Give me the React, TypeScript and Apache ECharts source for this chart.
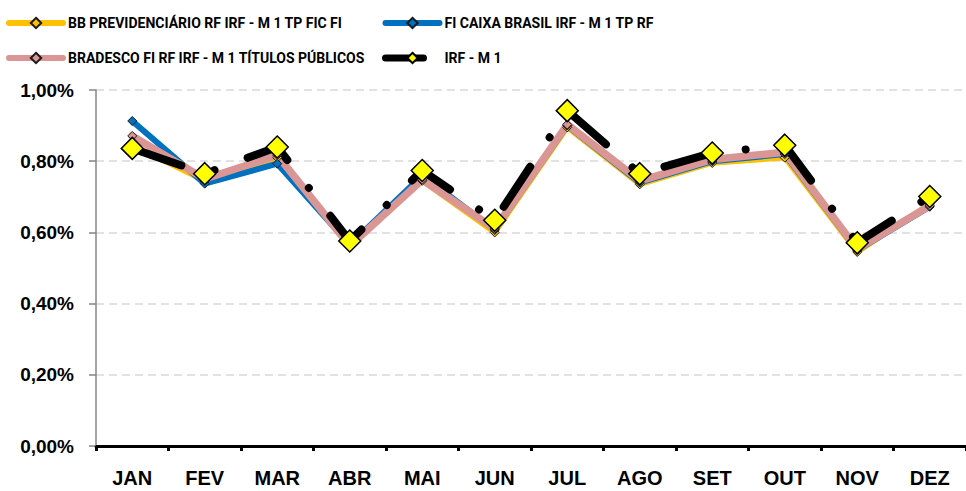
import React, { useEffect, useRef } from "react";
import * as echarts from "echarts";

const months = ["JAN", "FEV", "MAR", "ABR", "MAI", "JUN", "JUL", "AGO", "SET", "OUT", "NOV", "DEZ"];
const yTicks = [0, 0.2, 0.4, 0.6, 0.8, 1.0];

const bbName = "BB PREVIDENCIÁRIO RF IRF - M 1 TP FIC FI";
const caixaName = "FI CAIXA BRASIL IRF - M 1 TP RF";
const bradescoName = "BRADESCO FI RF IRF - M 1 TÍTULOS PÚBLICOS";
const irfName = "IRF - M 1";

const bbValues = [0.845, 0.745, 0.81, 0.56, 0.745, 0.6, 0.895, 0.735, 0.795, 0.81, 0.545, 0.68];
const caixaValues = [0.913, 0.737, 0.793, 0.565, 0.76, 0.607, 0.9, 0.74, 0.8, 0.82, 0.55, 0.672];
const bradescoValues = [0.871, 0.75, 0.817, 0.562, 0.748, 0.61, 0.903, 0.745, 0.805, 0.825, 0.553, 0.675];
const irfValues = [0.836, 0.765, 0.84, 0.576, 0.774, 0.634, 0.942, 0.765, 0.823, 0.845, 0.571, 0.701];

const LEGEND_FONT = 'Roboto, "Liberation Sans", Arial, sans-serif';
const AXIS_FONT = '"Liberation Sans", Arial, sans-serif';

export default function App() {
  const ref = useRef<HTMLDivElement>(null);
  useEffect(() => {
    if (!ref.current) return;
    const chart = echarts.init(ref.current, null, { renderer: "svg" });
    const fundSeries = (name: string, data: number[], color: string, width: number) => ({
      name,
      type: "line",
      data,
      symbol: "diamond",
      symbolSize: 9,
      itemStyle: { color, borderColor: "#1a1a1a", borderWidth: 1 },
      lineStyle: { color, width, cap: "round", join: "round" },
      emphasis: { disabled: true },
    });
    const legendText = { fontFamily: LEGEND_FONT, fontWeight: "bold", fontSize: 14, color: "#000" };
    const fundLegendLine = (color: string) => ({ color, width: 6, cap: "round", type: "solid" });
    chart.setOption({
      animation: false,
      backgroundColor: "#ffffff",
      grid: { left: 96, top: 90, width: 872, height: 356, containLabel: false },
      legend: [
        {
          data: [
            { name: bbName, lineStyle: fundLegendLine("#FFC000") },
            { name: bradescoName, lineStyle: fundLegendLine("#DA9694") },
          ],
          orient: "vertical",
          left: 1,
          top: 11,
          itemWidth: 54,
          itemHeight: 13,
          itemGap: 21,
          textStyle: legendText,
          selectedMode: false,
        },
        {
          data: [
            { name: caixaName, lineStyle: fundLegendLine("#0070C0") },
            {
              name: irfName,
              lineStyle: { color: "#000", width: 7, cap: "round", type: [38, 100], dashOffset: 0 },
            },
          ],
          orient: "vertical",
          left: 377,
          top: 11,
          itemWidth: 54,
          itemHeight: 13,
          itemGap: 21,
          textStyle: legendText,
          selectedMode: false,
        },
      ],
      xAxis: {
        type: "category",
        data: months,
        boundaryGap: true,
        axisLine: { show: true, lineStyle: { color: "#000", width: 3 } },
        axisTick: { show: true, length: 5, lineStyle: { color: "#000", width: 3 } },
        axisLabel: {
          fontFamily: AXIS_FONT,
          fontWeight: "bold",
          fontSize: 20,
          color: "#000",
          margin: 22,
        },
        splitLine: { show: false },
      },
      yAxis: {
        type: "value",
        min: yTicks[0],
        max: yTicks[yTicks.length - 1],
        interval: 0.2,
        axisLine: { show: true, lineStyle: { color: "#868686", width: 1.5 } },
        axisTick: { show: true, length: 7, lineStyle: { color: "#868686", width: 1.5 } },
        axisLabel: {
          fontFamily: AXIS_FONT,
          fontWeight: "bold",
          fontSize: 19,
          color: "#000",
          margin: 22,
          formatter: (v: number) => v.toFixed(2).replace(".", ",") + "%",
        },
        splitLine: { show: true, lineStyle: { color: "#D9D9D9", width: 1.5, type: [8, 5] } },
      },
      series: [
        fundSeries(bbName, bbValues, "#FFC000", 5.5),
        fundSeries(caixaName, caixaValues, "#0070C0", 6),
        fundSeries(bradescoName, bradescoValues, "#DA9694", 7.5),
        {
          name: irfName,
          type: "line",
          data: irfValues,
          symbol: "diamond",
          symbolSize: 22,
          itemStyle: { color: "#FFFF00", borderColor: "#000", borderWidth: 1.5 },
          lineStyle: {
            color: "#000",
            width: 8,
            type: [48, 35.25, 0.01, 35.25],
            dashOffset: -4,
            cap: "round",
            join: "round",
          },
          emphasis: { disabled: true },
        },
      ],
    });
    return () => chart.dispose();
  }, []);
  return <div ref={ref} style={{ position: "fixed", left: 0, top: 0, width: 966, height: 491 }} />;
}
